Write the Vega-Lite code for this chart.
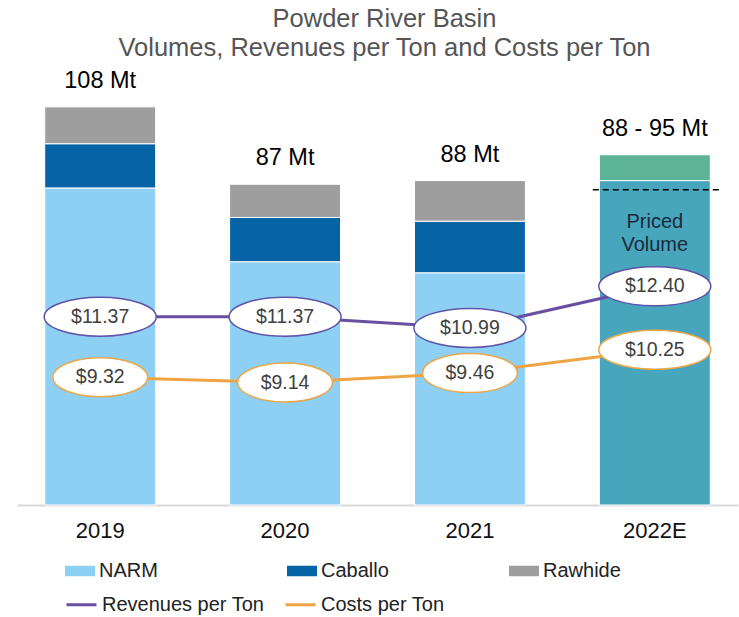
{
  "$schema": "https://vega.github.io/schema/vega-lite/v6.json",
  "width": 721,
  "height": 435,
  "autosize": {"type": "none"},
  "padding": {"left": 17, "top": 70, "right": 1, "bottom": 112},
  "background": "white",
  "config": {"font": "Liberation Sans", "view": {"stroke": null}},
  "title": {
    "text": "Powder River Basin",
    "subtitle": "Volumes, Revenues per Ton and Costs per Ton",
    "anchor": "middle",
    "fontSize": 25.5,
    "subtitleFontSize": 25.5,
    "color": "#555555",
    "subtitleColor": "#555555",
    "fontWeight": "normal",
    "font": "Liberation Sans",
    "subtitleFont": "Liberation Sans",
    "offset": 7,
    "subtitlePadding": 4,
    "dx": 7
  },
  "datasets": {
    "volumes": [
      {"year": "2019", "segment": "NARM", "mt": 86},
      {"year": "2019", "segment": "Caballo", "mt": 12},
      {"year": "2019", "segment": "Rawhide", "mt": 10},
      {"year": "2020", "segment": "NARM", "mt": 66},
      {"year": "2020", "segment": "Caballo", "mt": 12},
      {"year": "2020", "segment": "Rawhide", "mt": 9},
      {"year": "2021", "segment": "NARM", "mt": 63},
      {"year": "2021", "segment": "Caballo", "mt": 14},
      {"year": "2021", "segment": "Rawhide", "mt": 11},
      {"year": "2022E", "segment": "Priced", "mt": 88},
      {"year": "2022E", "segment": "Range", "mt": 7}
    ],
    "totals": [
      {"year": "2019", "total": 108, "label": "108 Mt"},
      {"year": "2020", "total": 87, "label": "87 Mt"},
      {"year": "2021", "total": 88, "label": "88 Mt"},
      {"year": "2022E", "total": 95, "label": "88 - 95 Mt"}
    ],
    "prices": [
      {"year": "2019", "series": "Revenues per Ton", "value": 11.37},
      {"year": "2020", "series": "Revenues per Ton", "value": 11.37},
      {"year": "2021", "series": "Revenues per Ton", "value": 10.99},
      {"year": "2022E", "series": "Revenues per Ton", "value": 12.40},
      {"year": "2019", "series": "Costs per Ton", "value": 9.32},
      {"year": "2020", "series": "Costs per Ton", "value": 9.14},
      {"year": "2021", "series": "Costs per Ton", "value": 9.46},
      {"year": "2022E", "series": "Costs per Ton", "value": 10.25}
    ]
  },
  "encoding": {
    "x": {
      "field": "year",
      "type": "nominal",
      "sort": ["2019", "2020", "2021", "2022E"],
      "scale": {"type": "band", "paddingInner": 0.4, "paddingOuter": 0.15},
      "axis": {
        "title": null,
        "labelAngle": 0,
        "labelFontSize": 22,
        "labelColor": "#111111",
        "ticks": false,
        "domainColor": "#d9d9d9",
        "domainWidth": 2,
        "labelPadding": 15
      }
    }
  },
  "layer": [
    {
      "layer": [
        {
          "data": {"name": "volumes"},
          "transform": [
            {"calculate": "indexof(['NARM','Caballo','Rawhide','Priced','Range'], datum.segment)", "as": "stackOrder"}
          ],
          "mark": {"type": "bar", "stroke": "white", "strokeWidth": 1},
          "encoding": {
            "y": {"field": "mt", "type": "quantitative", "stack": "zero", "scale": {"domain": [0, 118], "nice": false}, "axis": null},
            "fill": {
              "field": "segment",
              "type": "nominal",
              "scale": {
                "domain": ["NARM", "Caballo", "Rawhide", "Priced", "Range"],
                "range": ["#8DD0F4", "#0563A6", "#9E9E9E", "#47A5BC", "#5CB396"]
              },
              "legend": {
                "title": null,
                "values": ["NARM", "Caballo", "Rawhide"],
                "orient": "none",
                "legendX": 48,
                "legendY": 486,
                "direction": "horizontal",
                "columns": 3,
                "symbolType": "M-1,-0.35H1V0.35H-1Z",
                "symbolSize": 900,
                "symbolStrokeWidth": 0,
                "labelFontSize": 20,
                "labelColor": "#222222",
                "labelOffset": 4,
                "labelLimit": 300,
                "columnPadding": 110,
                "gridAlign": "all"
              }
            },
            "order": {"field": "stackOrder", "type": "quantitative", "sort": "ascending"}
          }
        },
        {
          "data": {"values": [{}]},
          "mark": {"type": "rule", "color": "#000000", "strokeWidth": 1.5, "strokeDash": [6, 4], "xOffset": -62, "x2Offset": 67},
          "encoding": {
            "x": {"datum": "2022E", "type": "nominal"},
            "x2": {"datum": "2022E"},
            "y": {"datum": 85.5, "type": "quantitative"}
          }
        },
        {
          "data": {"name": "totals"},
          "mark": {"type": "text", "dy": -26, "fontSize": 23.5, "color": "#000000"},
          "encoding": {
            "y": {"field": "total", "type": "quantitative"},
            "text": {"field": "label"}
          }
        },
        {
          "data": {"values": [{}]},
          "mark": {"type": "text", "fontSize": 20, "color": "#1A2B3C", "lineHeight": 23},
          "encoding": {
            "x": {"datum": "2022E", "type": "nominal"},
            "y": {"datum": 76.8, "type": "quantitative"},
            "text": {"value": ["Priced", "Volume"]}
          }
        }
      ]
    },
    {
      "layer": [
        {
          "data": {"name": "prices"},
          "mark": {"type": "line", "strokeWidth": 3},
          "encoding": {
            "y": {"field": "value", "type": "quantitative", "scale": {"domain": [4.99, 19.73], "nice": false, "zero": false}, "axis": null},
            "stroke": {
              "field": "series",
              "type": "nominal",
              "scale": {"domain": ["Revenues per Ton", "Costs per Ton"], "range": ["#6A4FA0", "#EEA443"]},
              "legend": {
                "title": null,
                "orient": "none",
                "legendX": 48,
                "legendY": 518,
                "direction": "horizontal",
                "columns": 2,
                "symbolType": "stroke",
                "symbolSize": 900,
                "symbolStrokeWidth": 3,
                "labelFontSize": 20,
                "labelColor": "#222222",
                "labelOffset": 4,
                "labelLimit": 300,
                "columnPadding": 14
              }
            }
          }
        },
        {
          "data": {"name": "prices"},
          "mark": {"type": "point", "filled": true, "fill": "white", "opacity": 1, "fillOpacity": 1, "strokeOpacity": 1, "strokeWidth": 1.5, "size": 12544},
          "encoding": {
            "y": {"field": "value", "type": "quantitative"},
            "shape": {
              "condition": {"test": "datum.value >= 10", "value": "M-1,0C-1,-0.192,-0.552,-0.348,0,-0.348C0.552,-0.348,1,-0.192,1,0C1,0.192,0.552,0.348,0,0.348C-0.552,0.348,-1,0.192,-1,0Z"},
              "value": "M-0.848,0C-0.848,-0.192,-0.468,-0.348,0,-0.348C0.468,-0.348,0.848,-0.192,0.848,0C0.848,0.192,0.468,0.348,0,0.348C-0.468,0.348,-0.848,0.192,-0.848,0Z"
            },
            "stroke": {
              "condition": {"test": "datum.series === 'Costs per Ton'", "value": "#E9A84A"},
              "value": "#5E55A8"
            }
          }
        },
        {
          "data": {"name": "prices"},
          "transform": [{"calculate": "'$' + format(datum.value, '.2f')", "as": "label"}],
          "mark": {"type": "text", "fontSize": 19.5, "color": "#404040"},
          "encoding": {
            "y": {"field": "value", "type": "quantitative"},
            "text": {"field": "label"}
          }
        }
      ]
    }
  ],
  "resolve": {"scale": {"y": "independent"}}
}
